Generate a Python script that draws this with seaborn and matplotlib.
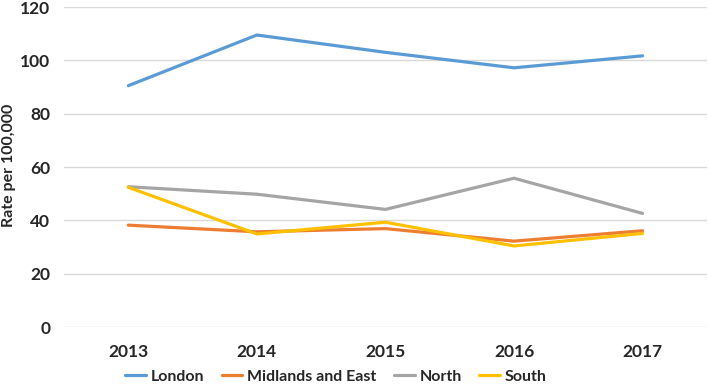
import pandas as pd
import seaborn as sns
import matplotlib.pyplot as plt

# values
years = ["2013", "2014", "2015", "2016", "2017"]
london = [90.5, 109.5, 103.0, 97.2, 101.7]
midlands_east = [38.2, 35.7, 36.9, 32.2, 36.1]
north = [52.6, 49.8, 44.1, 55.8, 42.6]
south = [52.4, 34.9, 39.3, 30.4, 35.1]

regions = ["London", "Midlands and East", "North", "South"]
colors = ["#5b9bd5", "#ed7d31", "#a5a5a5", "#ffc000"]

df = pd.DataFrame({
    "year": years * 4,
    "rate": london + midlands_east + north + south,
    "region": [r for r in regions for _ in years],
})

sns.set_style("white")
plt.rcParams["font.family"] = ["Lato", "DejaVu Sans"]

fig = plt.figure(figsize=(7.09, 3.9), dpi=100)
ax = fig.add_axes([0.0903, 0.1615, 0.9067, 0.8205])

sns.lineplot(data=df, x="year", y="rate", hue="region", hue_order=regions,
             palette=colors, linewidth=2.3, ax=ax, sort=False)

ax.set_xlim(-0.5, 4.5)
ax.set_ylim(0, 120)
ax.set_yticks(range(0, 121, 20))
ax.grid(axis="y", color="#d9d9d9", linewidth=1)
ax.set_axisbelow(True)
for s in ax.spines.values():
    s.set_visible(False)
ax.tick_params(axis="both", length=0, labelsize=12.5, pad=10)
for lbl in ax.get_xticklabels() + ax.get_yticklabels():
    lbl.set_fontweight("bold")
ax.tick_params(axis="x", pad=12)

ax.set_xlabel("")
ax.set_ylabel("")
fig.text(0.013, 0.575, "Rate per 100,000", rotation=90, ha="center", va="center",
         fontsize=11.5, fontweight="bold")

ax.legend(loc="center", bbox_to_anchor=(0.423, -0.155), ncol=4, frameon=False,
          handlelength=1.3, handletextpad=0.3, columnspacing=1.1,
          prop={"weight": "bold", "size": 11.5})

fig.savefig("out.png", dpi=100)
